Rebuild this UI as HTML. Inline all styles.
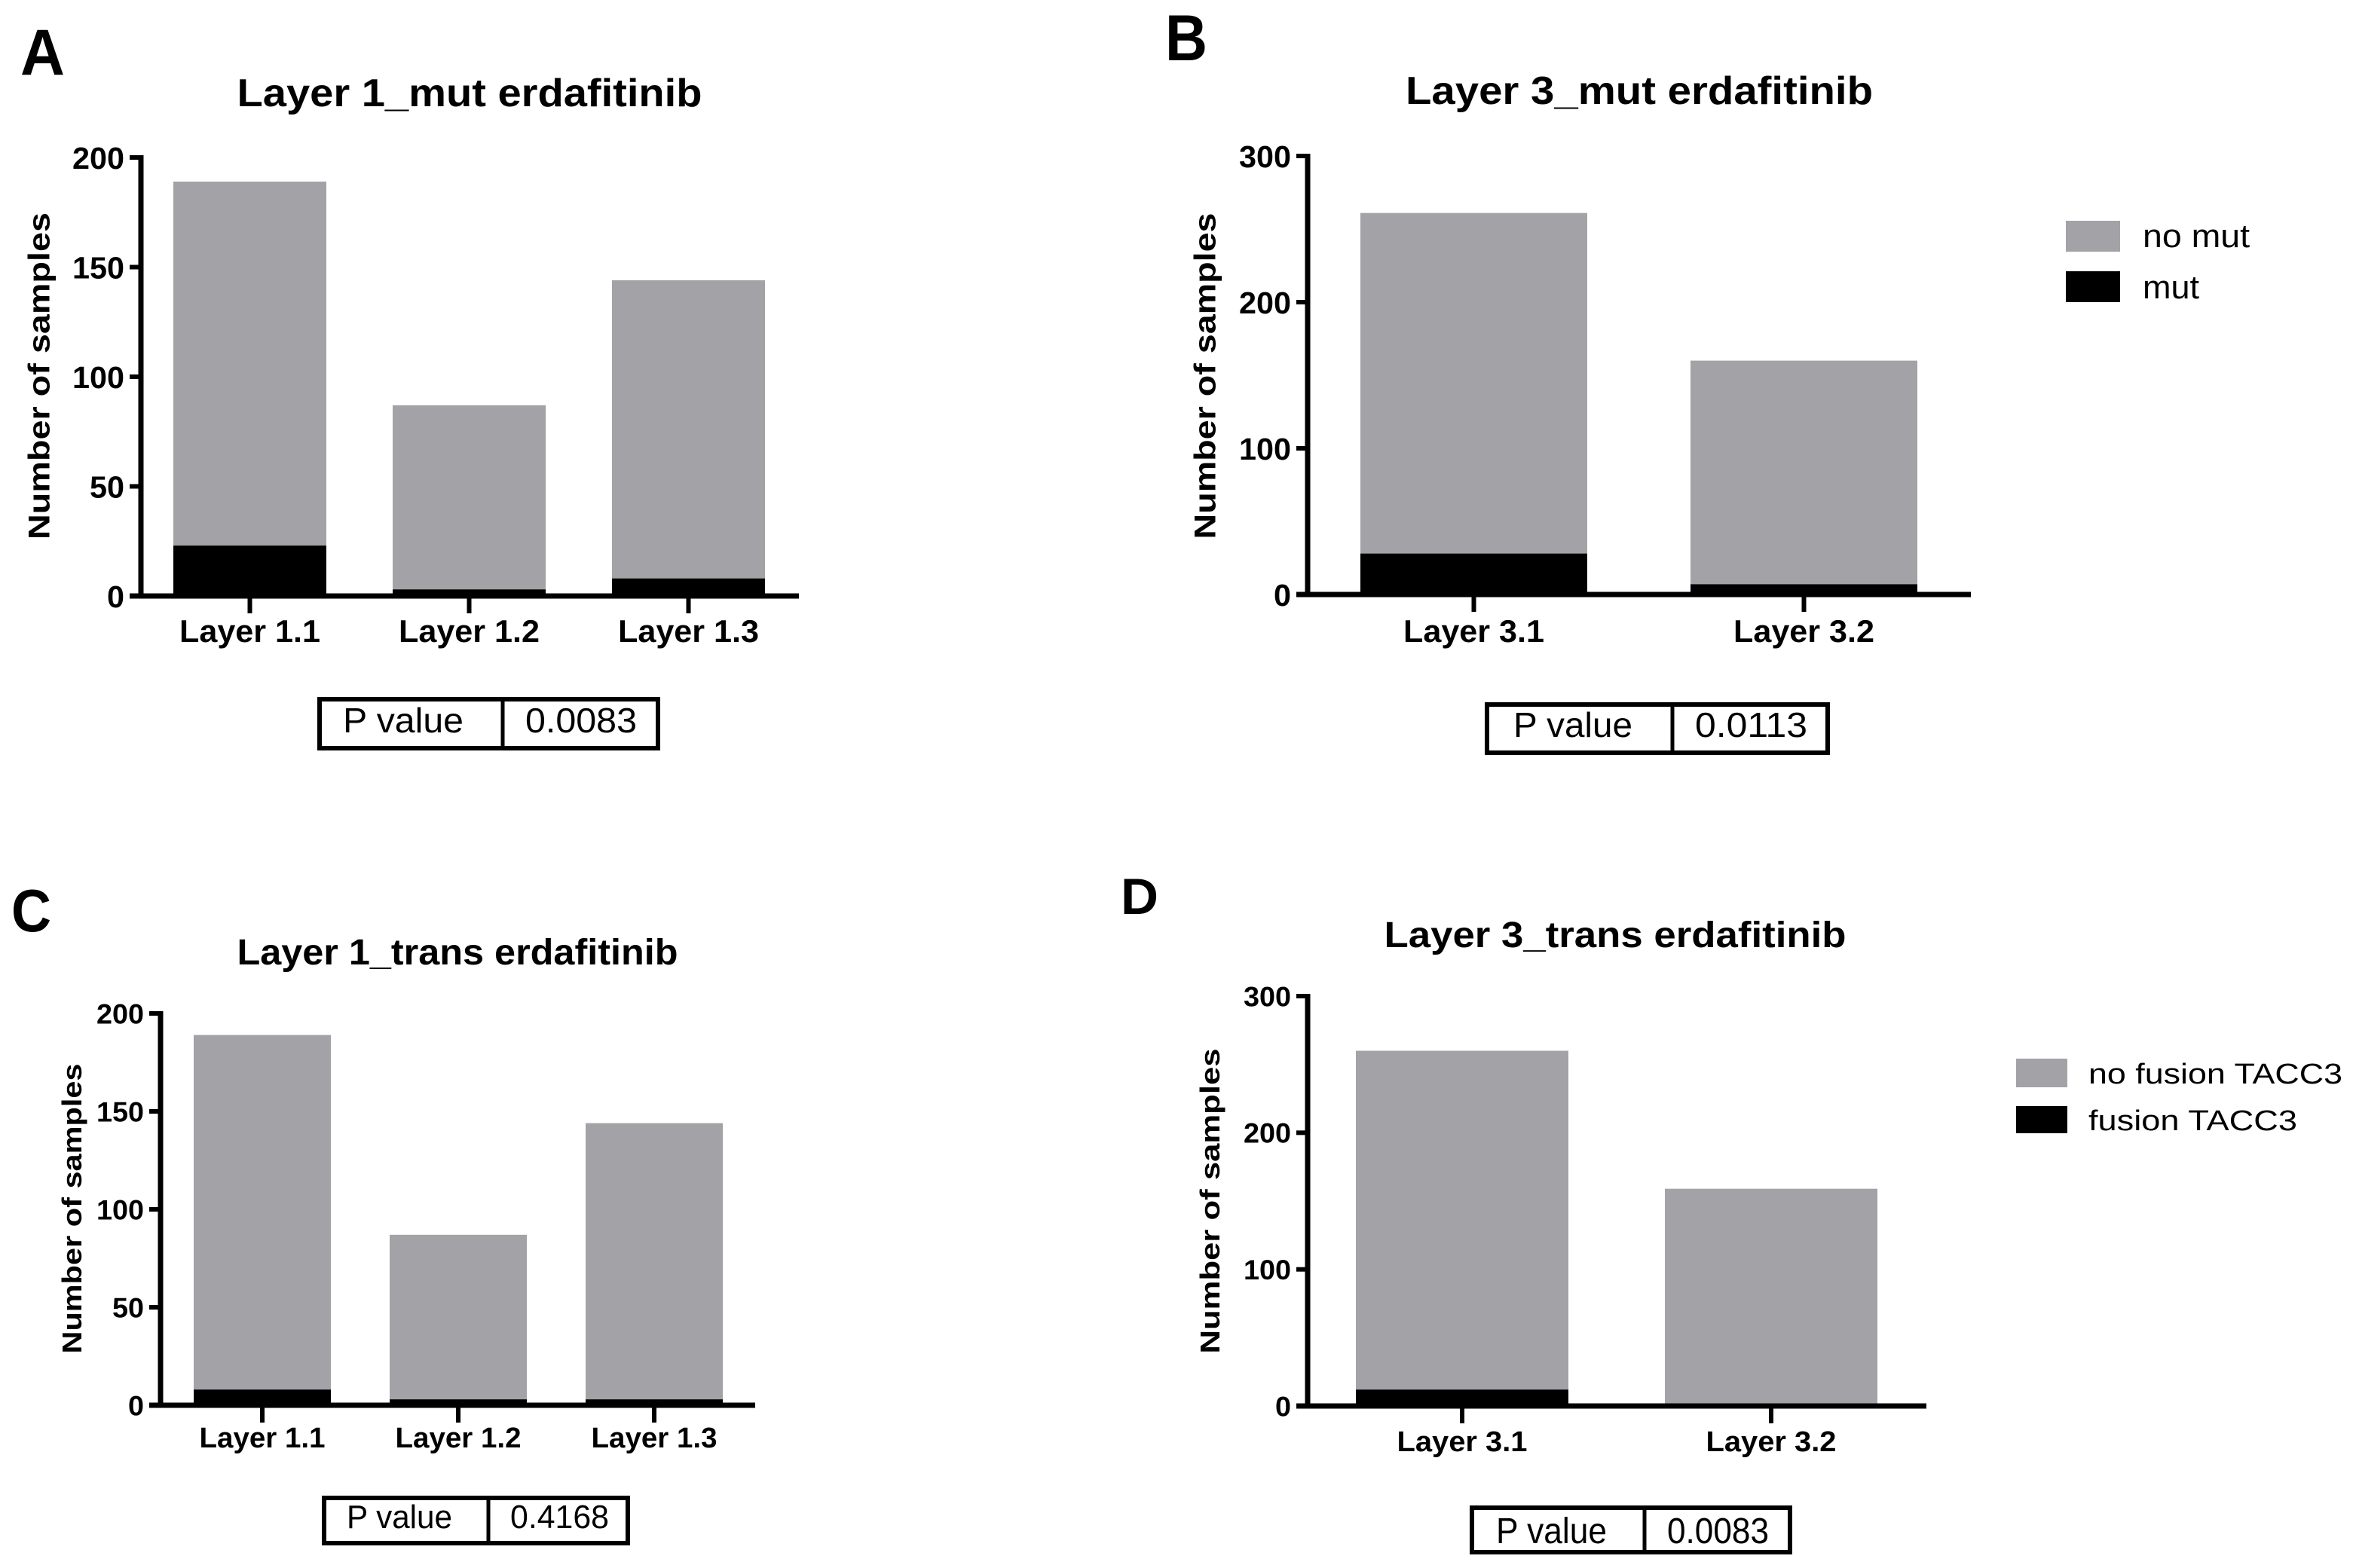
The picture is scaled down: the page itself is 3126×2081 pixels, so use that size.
<!DOCTYPE html>
<html><head><meta charset="utf-8">
<style>
html,body{margin:0;padding:0;background:#fff;}
svg{display:block;}
text{font-family:"Liberation Sans",Arial,sans-serif;fill:#000;}
</style></head>
<body>
<svg id="fig" width="3126" height="2081" viewBox="0 0 3126 2081" xmlns="http://www.w3.org/2000/svg"></svg>
<script>
// ---- data ----
const catsA = ["Layer 1.1","Layer 1.2","Layer 1.3"];
const totalA = [189, 87, 144];
const mutA = [23, 3, 8];
const ticksA = [0, 50, 100, 150, 200];

const catsB = ["Layer 3.1","Layer 3.2"];
const totalB = [261, 160];
const mutB = [28, 7];
const ticksB = [0, 100, 200, 300];

const catsC = ["Layer 1.1","Layer 1.2","Layer 1.3"];
const totalC = [189, 87, 144];
const mutC = [8, 3, 3];
const ticksC = [0, 50, 100, 150, 200];

const catsD = ["Layer 3.1","Layer 3.2"];
const totalD = [260, 159];
const mutD = [12, 0];
const ticksD = [0, 100, 200, 300];

const pA = "0.0083", pB = "0.0113", pC = "0.4168", pD = "0.0083";
const legendB = ["no mut","mut"];
const legendD = ["no fusion TACC3","fusion TACC3"];

const NS = "http://www.w3.org/2000/svg";
const svg = document.getElementById("fig");
const GRAY = "#a3a2a7";

function el(tag, attrs, parent, txt){
  const e = document.createElementNS(NS, tag);
  for (const k in attrs) e.setAttribute(k, attrs[k]);
  if (txt !== undefined) e.textContent = txt;
  (parent || svg).appendChild(e);
  return e;
}

function panel(cfg){
  const g = el("g", {});
  
  
  const ymax = cfg.ticks[cfg.ticks.length-1];
  const Y = v => cfg.y0 + (cfg.yTop - cfg.y0) * (v / ymax);

  // panel letter
  const L = el("text", {x: cfg.letter[0], y: cfg.letter[1], "font-size": cfg.letter[2], "font-weight": "bold", textLength: cfg.letter[3], lengthAdjust: "spacingAndGlyphs"}, g, cfg.letterTxt);
  
  

  // title
  const T = el("text", {x: cfg.title[0], y: cfg.title[1], "font-size": cfg.title[2], "font-weight": "bold", "text-anchor": "middle", textLength: cfg.title[3], lengthAdjust: "spacingAndGlyphs"}, g, cfg.titleTxt);
  
  

  // bars
  const n = cfg.cats.length;
  for (let i = 0; i < n; i++){
    const x0 = cfg.barX[i], w = cfg.barW;
    const r1 = el("rect", {x: x0, y: Y(cfg.total[i]), width: w, height: Y(0) - Y(cfg.total[i]), fill: GRAY}, g);
    
    
    if (cfg.mut[i] > 0){
      const r2 = el("rect", {x: x0, y: Y(cfg.mut[i]), width: w, height: Y(0) - Y(cfg.mut[i]), fill: "#000"}, g);
      
      
    }
    const cx = x0 + w/2;
    const tk = el("line", {x1: cx, x2: cx, y1: Y(0), y2: Y(0) + 23, stroke: "#000", "stroke-width": 6}, g);
    
    
    const xl = el("text", {x: cx, y: cfg.xlabY, "font-size": cfg.xlabFs, "font-weight": "bold", "text-anchor": "middle", textLength: cfg.xlabW, lengthAdjust: "spacingAndGlyphs"}, g, cfg.cats[i]);
    
    
  }

  // axes
  const ya = el("line", {x1: cfg.axX, x2: cfg.axX, y1: Y(ymax) - 3, y2: Y(0) + 3, stroke: "#000", "stroke-width": 7}, g);
  
  
  const xa = el("line", {x1: cfg.axX - 15, x2: cfg.axEnd, y1: Y(0), y2: Y(0), stroke: "#000", "stroke-width": 7}, g);
  
  
  cfg.ticks.forEach(t => {
    const l = el("line", {x1: cfg.axX - 15, x2: cfg.axX, y1: Y(t), y2: Y(t), stroke: "#000", "stroke-width": 6}, g);
    
    
    const s = String(t);
    const tl = el("text", {x: cfg.axX - 22, y: Y(t) + cfg.tickFs*0.36, "font-size": cfg.tickFs, "font-weight": "bold", "text-anchor": "end", textLength: s.length * cfg.digitW, lengthAdjust: "spacingAndGlyphs"}, g, s);
    
    
  });

  // y title
  const yt = el("text", {x: 0, y: 0, "font-size": cfg.yt[3], "font-weight": "bold", "text-anchor": "middle", textLength: cfg.yt[2], lengthAdjust: "spacingAndGlyphs", transform: "translate(" + (cfg.yt[0] + cfg.yt[3]*0.36) + "," + cfg.yt[1] + ") rotate(-90)"}, g, "Number of samples");
  
  

  // p value box
  const b = cfg.box; // x1,y1,x2,y2,div
  const bx = el("rect", {x: b[0], y: b[1], width: b[2]-b[0], height: b[3]-b[1], fill: "none", stroke: "#000", "stroke-width": 6}, g);
  
  
  const dv = el("line", {x1: b[4], x2: b[4], y1: b[1], y2: b[3], stroke: "#000", "stroke-width": 5}, g);
  
  
  const p1 = el("text", {x: cfg.ptxt[0], y: cfg.ptxt[4], "font-size": cfg.ptxt[5], textLength: cfg.ptxt[1], lengthAdjust: "spacingAndGlyphs"}, g, "P value");
  
  
  const p2 = el("text", {x: cfg.ptxt[2], y: cfg.ptxt[4], "font-size": cfg.ptxt[5], textLength: cfg.ptxt[3], lengthAdjust: "spacingAndGlyphs"}, g, cfg.p);
  
  

  // legend
  if (cfg.legend){
    const lg = cfg.legendPos; // x, sw, [y1,y2],[y1,y2], textX, fs, [widths], [baselines]
    [GRAY, "#000"].forEach((c, i) => {
      const s = el("rect", {x: lg.x, y: lg.rows[i][0], width: lg.sw, height: lg.rows[i][1]-lg.rows[i][0], fill: c}, g);
      
      
      const t = el("text", {x: lg.tx, y: lg.base[i], "font-size": lg.fs, textLength: lg.w[i], lengthAdjust: "spacingAndGlyphs"}, g, cfg.legend[i]);
      
      
    });
  }
}

panel({id:"panel-a", letterTxt:"A", letter:[27,99,86,59], titleTxt:"Layer 1_mut erdafitinib", title:[623,141,52,617],
  cats:catsA, total:totalA, mut:mutA, ticks:ticksA, y0:791, yTop:209, axX:187, axEnd:1060,
  barX:[230,521,812], barW:203, xlabY:852, xlabFs:42, xlabW:187, tickFs:41, digitW:23,
  yt:[51,499,434,40], box:[424,928,873,993,667], ptxt:[455,160,697,148,972,46], p:pA});

panel({id:"panel-b", letterTxt:"B", letter:[1546,80,86,56], titleTxt:"Layer 3_mut erdafitinib", title:[2175,138,52,620],
  cats:catsB, total:totalB, mut:mutB, ticks:ticksB, y0:789, yTop:207, axX:1735, axEnd:2615,
  barX:[1805,2243], barW:301, xlabY:852, xlabFs:42, xlabW:187, tickFs:41, digitW:23,
  yt:[1598,499,433,40], box:[1973,935,2425,999,2219], ptxt:[2008,158,2249,149,978,46], p:pB,
  legend:legendB, legendPos:{x:2741, sw:72, rows:[[293,334],[360,401]], tx:2843, fs:44, w:[142,75], base:[328,396]}});

panel({id:"panel-c", letterTxt:"C", letter:[15,1236,80,53], titleTxt:"Layer 1_trans erdafitinib", title:[607,1280,48,585],
  cats:catsC, total:totalC, mut:mutC, ticks:ticksC, y0:1865, yTop:1345, axX:213, axEnd:1002,
  barX:[257,517,777], barW:182, xlabY:1921, xlabFs:38, xlabW:167, tickFs:37, digitW:21,
  yt:[95,1604,385,36], box:[430,1988,833,2048,648], ptxt:[460,140,677,131,2028,44], p:pC});

panel({id:"panel-d", letterTxt:"D", letter:[1487,1213,68,50], titleTxt:"Layer 3_trans erdafitinib", title:[2143,1257,48,613],
  cats:catsD, total:totalD, mut:mutD, ticks:ticksD, y0:1866, yTop:1322, axX:1735, axEnd:2556,
  barX:[1799,2209], barW:282, xlabY:1926, xlabFs:38, xlabW:173, tickFs:37, digitW:21,
  yt:[1605,1594,405,36], box:[1953,2001,2375,2060,2182], ptxt:[1985,147,2212,135,2048,48], p:pD,
  legend:legendD, legendPos:{x:2675, sw:68, rows:[[1405,1443],[1468,1504]], tx:2771, fs:38, w:[337,277], base:[1438,1500]}});
</script>
</body></html>
